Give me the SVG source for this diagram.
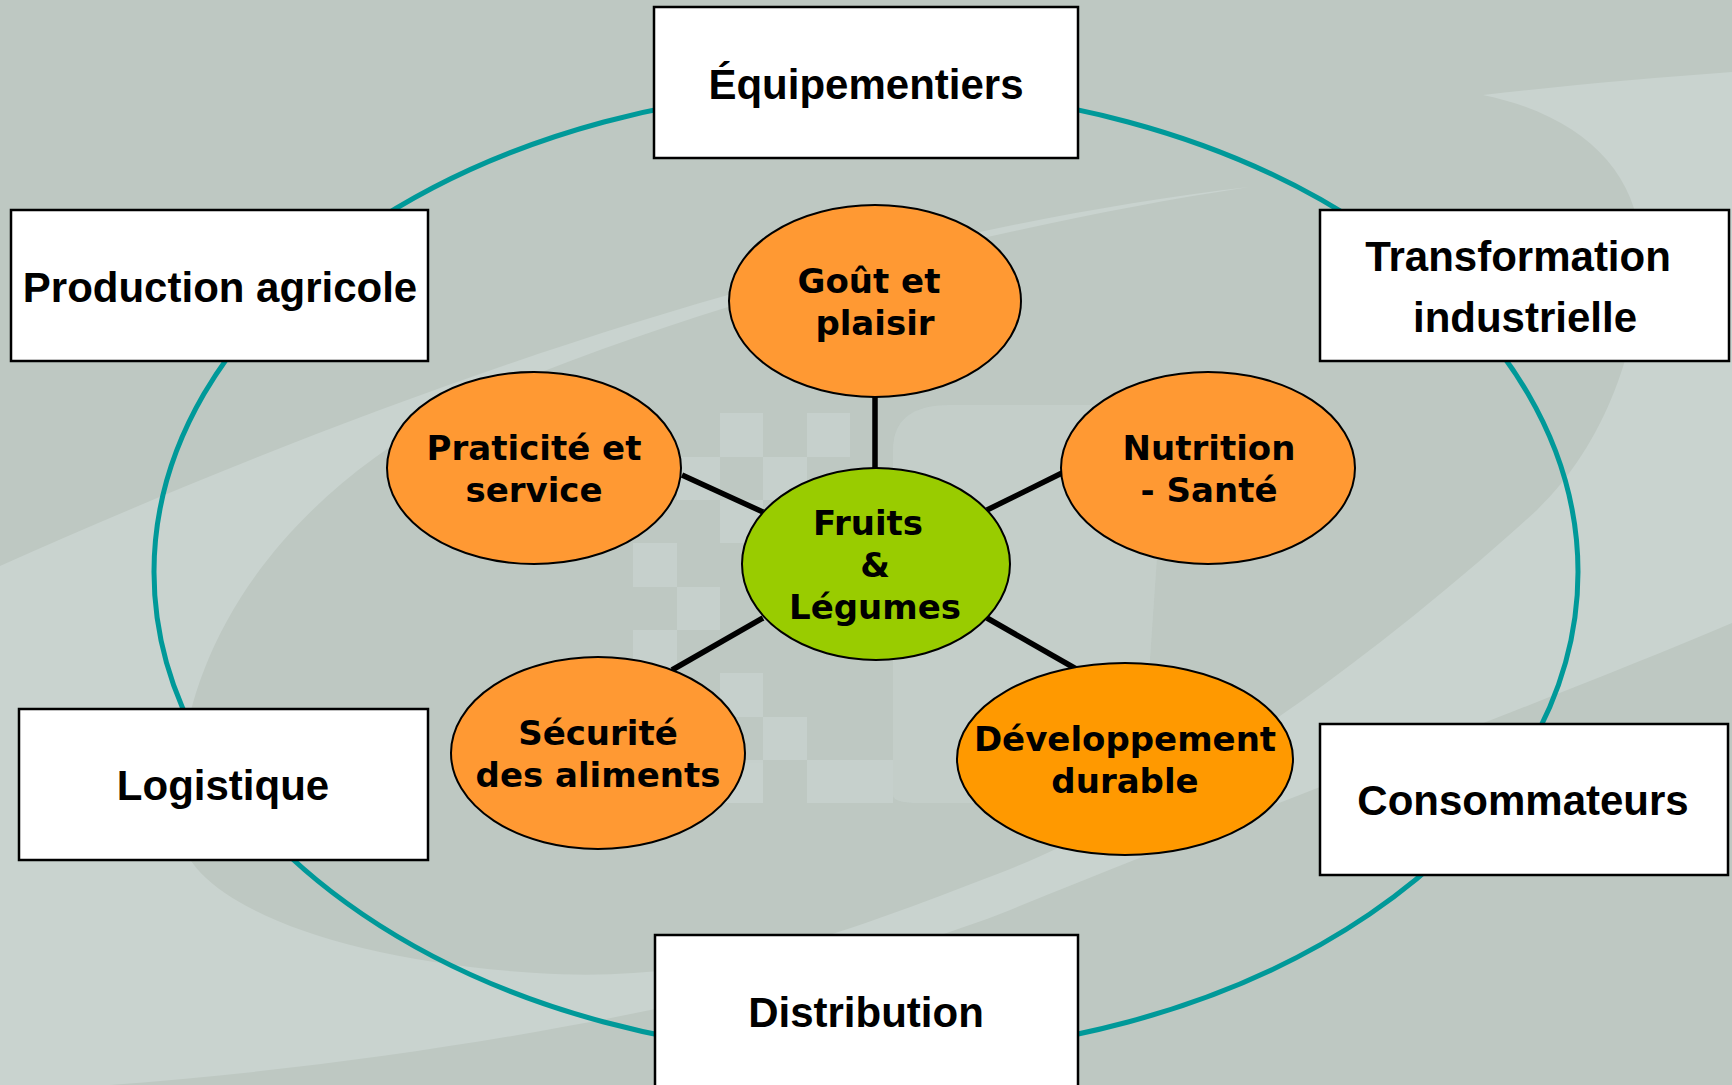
<svg xmlns="http://www.w3.org/2000/svg" width="1732" height="1085" viewBox="0 0 1732 1085">
<style>
.bg{fill:#BEC8C2}
.lt{fill:#C9D3CF}
.box rect{fill:#FFFFFF;stroke:#000000;stroke-width:2.5}
.box text{font-family:"Liberation Sans",Arial,sans-serif;font-weight:bold;font-size:42px;text-anchor:middle;fill:#000000}
.ell ellipse{stroke:#000000;stroke-width:2}
.ell text{font-family:"DejaVu Sans",Verdana,sans-serif;font-weight:bold;font-size:34px;text-anchor:middle;fill:#000000}
.or{fill:#FF9933}
.or2{fill:#FF9900}
.gr{fill:#99CC00}
.conn line{stroke:#000000;stroke-width:5.5}
</style>
<g id="background">
<rect class="bg" x="0" y="0" width="1732" height="1085"/>
<path class="lt" d="M0,566 C350,410 800,240 1249,187 C1000,225 700,300 450,410 C250,520 170,680 179,830 C185,900 330,960 536,973 C720,985 850,930 1000,873 C1150,815 1350,680 1537,510 C1610,440 1645,330 1640,240 C1635,170 1580,115 1483,95 C1570,85 1650,78 1732,72 L1732,623 C1550,700 1280,800 1000,914 C800,990 450,1060 110,1085 L0,1085 Z"/>
<path class="lt" opacity="0.55" d="M893,795 L893,450 Q893,405 950,405 L1100,405 Q1160,405 1163,470 L1150,660 Q1140,800 1000,803 L920,803 Q893,803 893,795 Z"/>
<g class="lt" opacity="0.8">
<rect x="720" y="413" width="43" height="44"/>
<rect x="807" y="413" width="43" height="44"/>
<rect x="763" y="457" width="44" height="43"/>
<rect x="677" y="457" width="43" height="43"/>
<rect x="720" y="500" width="43" height="43"/>
<rect x="633" y="543" width="44" height="44"/>
<rect x="677" y="587" width="43" height="43"/>
<rect x="633" y="630" width="44" height="43"/>
<rect x="720" y="673" width="43" height="44"/>
<rect x="763" y="717" width="44" height="43"/>
<rect x="720" y="760" width="43" height="43"/>
<rect x="807" y="760" width="86" height="43"/>
</g>
<rect class="bg" x="807" y="673" width="86" height="42"/>
<rect class="bg" x="720" y="457" width="43" height="43"/>
</g>
<ellipse cx="866" cy="572" rx="712" ry="484" fill="none" stroke="#009999" stroke-width="5"/>
<g class="conn" id="connectors">
<line x1="875" y1="397" x2="875" y2="468"/>
<line x1="682" y1="475" x2="763" y2="512"/>
<line x1="1062" y1="473" x2="987" y2="510"/>
<line x1="763" y1="618" x2="672" y2="670"/>
<line x1="987" y1="618" x2="1078" y2="670"/>
</g>
<g class="box" id="equipementiers"><rect x="654" y="7" width="424" height="151"/><text x="866" y="99">Équipementiers</text></g>
<g class="box" id="production"><rect x="11" y="210" width="417" height="151"/><text x="220" y="302">Production agricole</text></g>
<g class="box" id="transformation"><rect x="1320" y="210" width="409" height="151"/><text x="1518" y="271">Transformation</text><text x="1525" y="332">industrielle</text></g>
<g class="box" id="logistique"><rect x="19" y="709" width="409" height="151"/><text x="223" y="800">Logistique</text></g>
<g class="box" id="consommateurs"><rect x="1320" y="724" width="408" height="151"/><text x="1523" y="815">Consommateurs</text></g>
<g class="box" id="distribution"><rect x="655" y="935" width="423" height="160"/><text x="866" y="1027">Distribution</text></g>
<g class="ell" id="gout"><ellipse class="or" cx="875" cy="301" rx="146" ry="96"/><text x="869" y="293">Goût et</text><text x="875" y="335">plaisir</text></g>
<g class="ell" id="praticite"><ellipse class="or" cx="534" cy="468" rx="147" ry="96"/><text x="534" y="460">Praticité et</text><text x="534" y="502">service</text></g>
<g class="ell" id="nutrition"><ellipse class="or" cx="1208" cy="468" rx="147" ry="96"/><text x="1209" y="460">Nutrition</text><text x="1209" y="502">- Santé</text></g>
<g class="ell" id="fruits"><ellipse class="gr" cx="876" cy="564" rx="134" ry="96"/><text x="868" y="535">Fruits</text><text x="875" y="577">&amp;</text><text x="875" y="619">Légumes</text></g>
<g class="ell" id="securite"><ellipse class="or" cx="598" cy="753" rx="147" ry="96"/><text x="598" y="745">Sécurité</text><text x="598" y="787">des aliments</text></g>
<g class="ell" id="developpement"><ellipse class="or2" cx="1125" cy="759" rx="168" ry="96"/><text x="1125" y="751">Développement</text><text x="1125" y="793">durable</text></g>
</svg>
